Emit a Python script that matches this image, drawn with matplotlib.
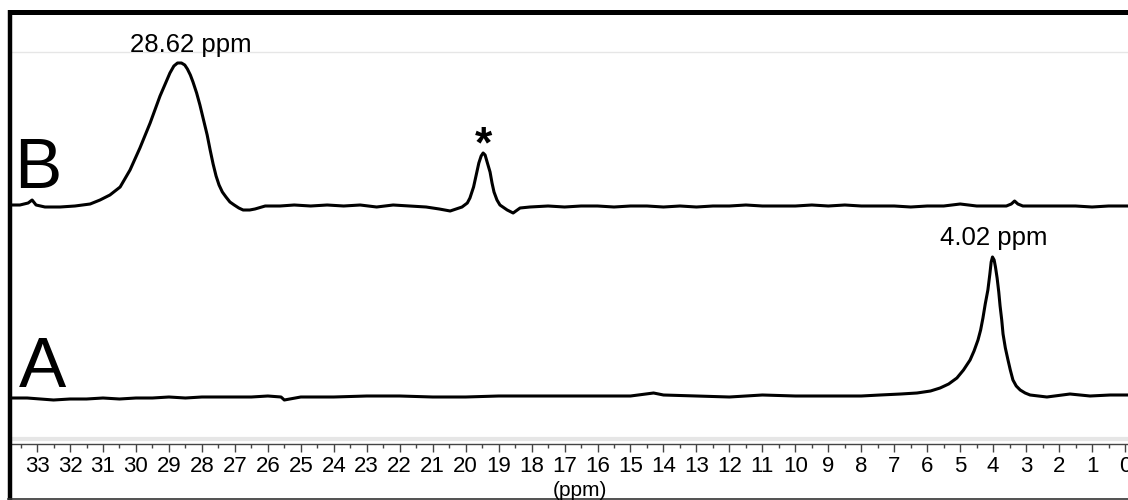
import matplotlib
matplotlib.use("Agg")
import matplotlib.pyplot as plt
from matplotlib.lines import Line2D
import numpy as np

plt.rcParams['font.family'] = ['Liberation Sans', 'DejaVu Sans']

# spectrum B (top trace), chemical shift in ppm and intensity above its baseline
ppm_b = [33.76, 33.52, 33.27, 33.15, 33.03, 32.76, 32.30, 31.85, 31.39, 31.09,
         30.79, 30.48, 30.18, 29.88, 29.57, 29.27, 29.10, 28.97, 28.85, 28.74,
         28.62, 28.52, 28.44, 28.35, 28.27, 28.16, 28.06, 27.95, 27.84, 27.75,
         27.66, 27.57, 27.48, 27.38, 27.27, 27.15, 27.02, 26.88, 26.75, 26.55,
         26.39, 26.08, 25.63, 25.2, 24.7, 24.2, 23.7, 23.2, 22.7, 22.2,
         21.7, 21.2, 20.8, 20.47, 20.11, 19.95, 19.87, 19.76, 19.68, 19.6,
         19.53, 19.47, 19.41, 19.34, 19.26, 19.2, 19.14, 19.05, 18.96, 18.74,
         18.56, 18.35, 18.05, 17.5, 17.0, 16.5, 16.0, 15.5, 15.0, 14.5,
         14.0, 13.5, 13.0, 12.5, 12.0, 11.5, 11.0, 10.5, 10.0, 9.5,
         9.0, 8.5, 8.0, 7.5, 7.0, 6.5, 6.0, 5.5, 5.0, 4.5,
         4.0, 3.6, 3.45, 3.35, 3.25, 3.1, 2.5, 2.0, 1.5, 1.0, 0.5, -0.09]
int_b = [2, 2, 4, 7, 2, 0, 0, 1, 3, 7,
         12, 20, 37, 59, 84, 111, 124, 134, 141, 144,
         144, 142, 138, 132, 125, 114, 102, 87, 72, 57,
         43, 31, 22, 15, 10, 5, 2, -1, -3, -3,
         -2, 1, 1, 2, 1, 2, 1, 2, 0, 2,
         1, 0, -2, -4, 0, 4, 9, 20, 32, 44,
         51, 54, 52, 44, 35, 24, 15, 7, 2, -3,
         -6, -1, 0, 1, 0, 1, 1, 0, 1, 1,
         0, 1, 0, 1, 1, 2, 1, 1, 1, 2,
         1, 2, 1, 1, 1, 0, 1, 1, 3, 1,
         1, 1, 3, 6, 3, 1, 1, 1, 1, 0, 1, 1]

# spectrum A (bottom trace)
ppm_a = [33.76, 33.3, 32.9, 32.5, 32.0, 31.5, 31.0, 30.5, 30.0, 29.5,
         29.0, 28.5, 28.0, 27.5, 27.0, 26.5, 26.0, 25.6, 25.5, 25.0,
         24.0, 23.0, 22.0, 21.0, 20.0, 19.0, 18.0, 17.0, 16.0, 15.0,
         14.3, 14.0, 13.0, 12.0, 11.0, 10.0, 9.0, 8.0, 7.43, 6.8,
         6.31, 5.9, 5.61, 5.35, 5.10, 4.90, 4.70, 4.58, 4.46, 4.38,
         4.31, 4.24, 4.16, 4.10, 4.06, 4.02, 3.97, 3.93, 3.88, 3.83,
         3.79, 3.74, 3.70, 3.63, 3.55, 3.48, 3.40, 3.30, 3.18, 3.03,
         2.88, 2.37, 1.67, 1.06, 0.45, -0.09]
int_a = [0, 0, -1, -2, -1, -1, 0, -1, 0, 0,
         1, 0, 1, 1, 1, 1, 2, 1, -2, 1,
         1, 2, 2, 1, 1, 2, 2, 2, 2, 2,
         5, 3, 2, 1, 3, 2, 2, 2, 3, 4,
         5, 7, 10, 14, 20, 28, 38, 47, 58, 68,
         80, 94, 108, 124, 136, 141, 138, 131, 120, 106,
         92, 78, 64, 50, 38, 28, 18, 12, 8, 5,
         3, 1, 4, 2, 3, 3]

offset_b = 191
major_ticks = list(range(0, 34))

fig = plt.figure(figsize=(11.28, 5.0), dpi=100)
ax = fig.add_axes([12 / 1128, 56 / 500, 1116 / 1128, 430 / 500])

ax.plot(ppm_a, int_a, color='black', lw=2.2, solid_joinstyle='round')
ax.plot(ppm_b, np.array(int_b) + offset_b, color='black', lw=2.2, solid_joinstyle='round')

ax.set_xlim(33.76, -0.09)
ax.set_ylim(-46, 384)

# faint guide lines
ax.axhline(346, color='#e6e6e6', lw=1)
ax.axhline(-41, color='#e6e6e6', lw=3)

for s in ['top', 'left', 'right']:
    ax.spines[s].set_visible(False)
ax.spines['bottom'].set_color('#444444')
ax.spines['bottom'].set_linewidth(1)

ax.set_xticks(major_ticks)
ax.set_xticklabels([str(t) for t in major_ticks], fontsize=16)
ax.set_xticks(np.arange(0.5, 34, 1), minor=True)
ax.tick_params(axis='x', which='major', length=6, width=1, color='#444444', pad=3)
ax.tick_params(axis='x', which='minor', length=3, width=1, color='#444444')
ax.set_yticks([])

# annotations
ax.text(28.62 - 0.27, 346, '28.62 ppm', fontsize=18.5, ha='center', va='baseline')
ax.text(4.02 - 0.04, 153, '4.02 ppm', fontsize=18.5, ha='center', va='baseline')
ax.text(19.47, 241, '*', fontsize=32, fontweight='bold', ha='center', va='baseline')

fig.text(14 / 1128, 1 - 188 / 500, 'B', fontsize=51, ha='left', va='baseline')
fig.text(19 / 1128, 1 - 387 / 500, 'A', fontsize=51, ha='left', va='baseline')
fig.text(580 / 1128, 1 - 490 / 500, '(ppm)', fontsize=15, ha='center', va='center')

# outer frame
fig.add_artist(Line2D([7.5 / 1128, 1], [1 - 11.5 / 500] * 2, color='black', lw=3.6,
                      solid_capstyle='butt', transform=fig.transFigure))
fig.add_artist(Line2D([9.5 / 1128] * 2, [1 - 9.5 / 500, 0], color='black', lw=3.2,
                      solid_capstyle='butt', transform=fig.transFigure))
fig.add_artist(Line2D([8 / 1128, 1], [1.2 / 500] * 2, color='#333333', lw=1.2,
                      transform=fig.transFigure))

fig.savefig('out.png', dpi=100)
